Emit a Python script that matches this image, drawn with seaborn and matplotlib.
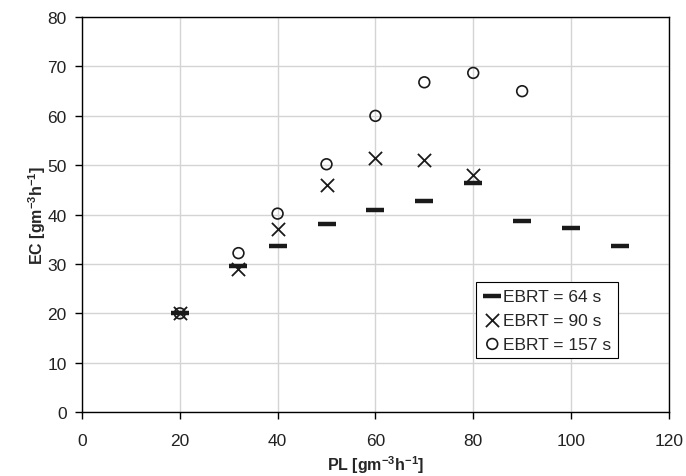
import numpy as np
import pandas as pd
import seaborn as sns
import matplotlib.pyplot as plt

# EBRT = 64 s
pl_64 = [20, 32, 40, 50, 60, 70, 80, 90, 100, 110]
ec_64 = [20.0, 29.5, 33.7, 38.0, 41.0, 42.7, 46.5, 38.7, 37.3, 33.7]

# EBRT = 90 s
pl_90 = [20, 32, 40, 50, 60, 70, 80]
ec_90 = [20.0, 29.0, 37.0, 46.0, 51.5, 51.0, 48.0]

# EBRT = 157 s
pl_157 = [20, 32, 40, 50, 60, 70, 80, 90]
ec_157 = [20.0, 32.2, 40.2, 50.2, 60.0, 66.8, 68.7, 65.0]

x_ticks = [0, 20, 40, 60, 80, 100, 120]
y_ticks = [0, 10, 20, 30, 40, 50, 60, 70, 80]

sns.set_theme(style="white")
plt.rcParams['font.family'] = ['Liberation Sans', 'DejaVu Sans']
plt.rcParams['mathtext.fontset'] = 'custom'
plt.rcParams['mathtext.rm'] = 'Liberation Sans'
plt.rcParams['mathtext.bf'] = 'Liberation Sans:bold'
plt.rcParams['mathtext.default'] = 'bf'

fig = plt.figure(figsize=(6.86, 4.77), dpi=100)
ax = fig.add_axes([0.1195, 0.134, 0.8555, 0.828])

ink = '#1a1a1a'
sns.scatterplot(x=pl_64, y=ec_64, marker='_', s=150, linewidth=3.2,
                color=ink, label='EBRT = 64 s', ax=ax, zorder=3)
sns.scatterplot(x=pl_90, y=ec_90, marker='x', s=90, linewidth=1.3,
                color=ink, label='EBRT = 90 s', ax=ax, zorder=3)
sns.scatterplot(x=pl_157, y=ec_157, marker='o', s=60, linewidth=1.2,
                facecolor='none', edgecolor=ink, label='EBRT = 157 s', ax=ax, zorder=3)

ax.set_xlim(0, 120)
ax.set_ylim(0, 80)
ax.set_xticks(x_ticks)
ax.set_yticks(y_ticks)
ax.grid(True, color='#d4d4d4', linewidth=1.0)
ax.set_axisbelow(True)
for sp in ax.spines.values():
    sp.set_color('black')
    sp.set_linewidth(1.0)
ax.tick_params(axis='both', which='both', direction='out', length=5, width=1,
               color='black', labelsize=12.5, labelcolor='#222222',
               bottom=True, left=True, top=False, right=False)
ax.tick_params(axis='x', pad=10)
ax.tick_params(axis='y', pad=6)

ax.set_xlabel('PL [gm$^{-3}$h$^{-1}$]', fontsize=11.5, fontweight='bold', labelpad=4)
ax.set_ylabel('EC [gm$^{-3}$h$^{-1}$]', fontsize=11.5, fontweight='bold')
ax.yaxis.set_label_coords(-0.058, 0.5)

leg = ax.legend(loc='upper left', bbox_to_anchor=(0.671, 0.33), fontsize=12.5,
                frameon=True, fancybox=False, edgecolor='black', framealpha=1,
                handletextpad=0.05, handlelength=1.1, borderpad=0.4,
                labelspacing=0.5, borderaxespad=0)
leg.get_frame().set_linewidth(0.8)

plt.savefig('out.png', dpi=100)
